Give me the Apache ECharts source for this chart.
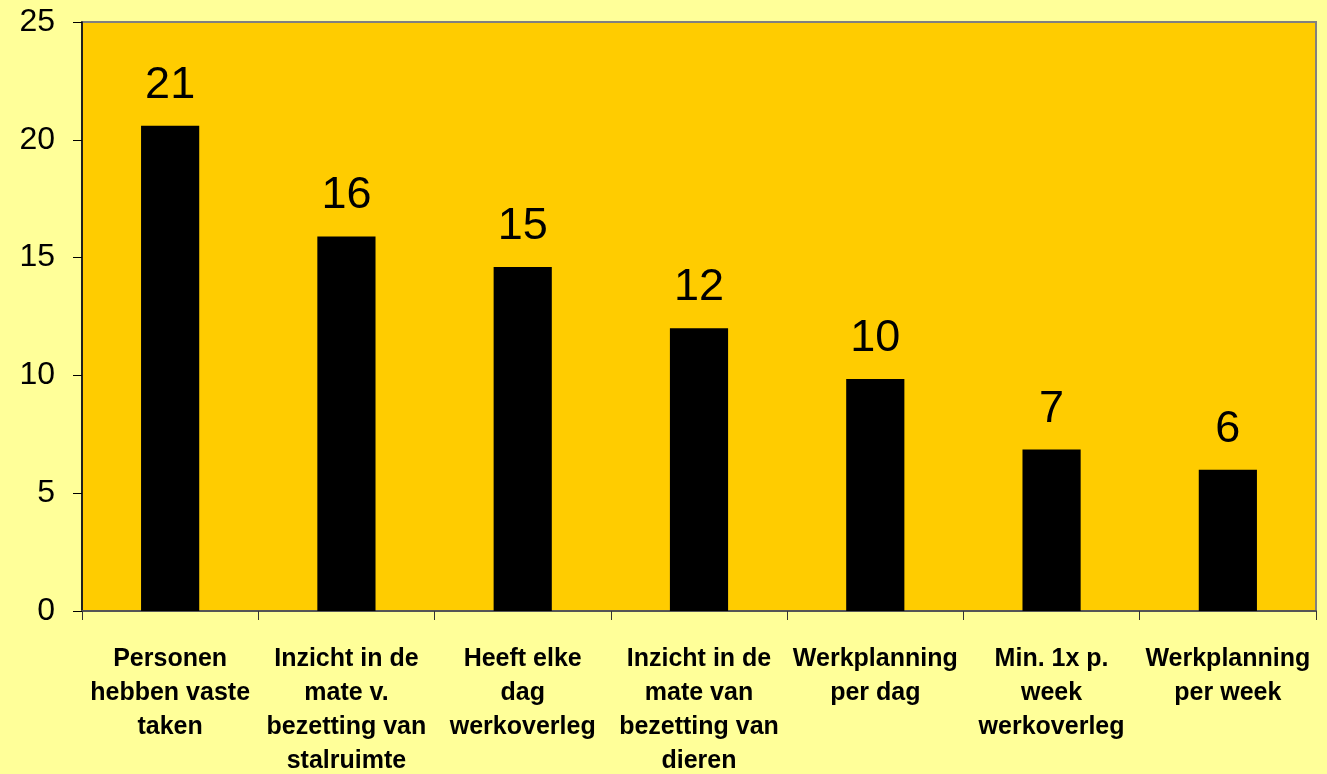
<!DOCTYPE html>
<html>
<head>
<meta charset="utf-8">
<script src="https://cdn.jsdelivr.net/npm/echarts@6/dist/echarts.min.js"></script>
<style>
html,body{margin:0;padding:0;background:#FFFF99;}
#c{width:1327px;height:774px;}
</style>
</head>
<body>
<div id="c"></div>
<script>
var categories = [
  'Personen\nhebben vaste\ntaken',
  'Inzicht in de\nmate v.\nbezetting van\nstalruimte',
  'Heeft elke\ndag\nwerkoverleg',
  'Inzicht in de\nmate van\nbezetting van\ndieren',
  'Werkplanning\nper dag',
  'Min. 1x p.\nweek\nwerkoverleg',
  'Werkplanning\nper week'
];
var values = [20.6, 15.9, 14.6, 12.0, 9.85, 6.85, 6.0];
var valueLabels = ['21', '16', '15', '12', '10', '7', '6'];
var yTicks = [0, 5, 10, 15, 20, 25];

var font = '"Liberation Sans", Arial, sans-serif';
var chart = echarts.init(document.getElementById('c'));
chart.setOption({
  backgroundColor: '#FFFF99',
  animation: false,
  grid: {
    left: 82, right: 11, top: 22, bottom: 163,
    outerBoundsMode: 'none', containLabel: false,
    show: true, backgroundColor: '#FFCC00', borderColor: '#808080', borderWidth: 2
  },
  xAxis: {
    type: 'category',
    data: categories,
    axisLine: { show: true, lineStyle: { color: '#555555', width: 2 } },
    axisTick: { show: true, alignWithLabel: false, length: 9, lineStyle: { color: '#333333', width: 1 } },
    axisLabel: {
      interval: 0, margin: 31, color: '#000', fontFamily: font,
      fontSize: 25, fontWeight: 'bold', lineHeight: 34, align: 'center', verticalAlign: 'top',
      hideOverlap: false
    },
    splitLine: { show: false }
  },
  yAxis: {
    type: 'value',
    min: yTicks[0], max: yTicks[yTicks.length - 1], interval: 5,
    axisLine: { show: true, lineStyle: { color: '#000', width: 1.5 } },
    axisTick: { show: true, length: 9, lineStyle: { color: '#000' } },
    axisLabel: { margin: 27, color: '#000', fontFamily: font, fontSize: 32 },
    splitLine: { show: false }
  },
  series: [{
    type: 'bar',
    data: values,
    barWidth: '33%',
    itemStyle: { color: '#000000' },
    label: {
      show: true, position: 'top', distance: 18,
      color: '#000', fontFamily: font, fontSize: 45,
      formatter: function (p) { return valueLabels[p.dataIndex]; }
    }
  }]
});
</script>
</body>
</html>
